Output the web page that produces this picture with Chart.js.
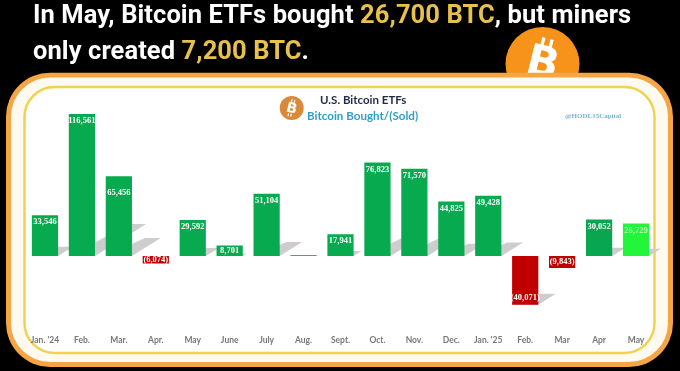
<!DOCTYPE html>
<html><head><meta charset="utf-8">
<style>
html,body{margin:0;padding:0;background:#000;width:680px;height:371px;overflow:hidden}
#wrap{position:relative;width:680px;height:371px}
canvas{position:absolute;left:0;top:0}
.t{position:absolute;white-space:nowrap}
.h{font:700 25.5px Roboto,sans-serif;color:#fff;left:33px;letter-spacing:.08px}
.h b{color:#e8c14c;font-weight:700}
</style></head><body><div id="wrap">
<canvas id="c" width="680" height="371"></canvas>
<div class="t h" style="top:-1px">In May, Bitcoin ETFs bought <b>26,700 BTC</b>, but miners</div>
<div class="t h" style="top:35px">only created <b>7,200 BTC</b>.</div>
<div class="t" style="left:320px;top:93px;font:700 11.5px Lato,sans-serif;color:#1f2a44">U.S. Bitcoin ETFs</div>
<div class="t" style="left:307px;top:109px;font:700 11.6px Lato,sans-serif;color:#2f9fc8">Bitcoin Bought/(Sold)</div>
<div class="t" style="left:565px;top:112px;font:700 7px 'Liberation Serif',serif;color:#7db2d2">@HODL15Capital</div>
</div>
<script src="https://cdn.jsdelivr.net/npm/chart.js@4"></script>
<script>
const categories=["Jan. '24","Feb.","Mar.","Apr.","May","June","July","Aug.","Sept.","Oct.","Nov.","Dec.","Jan. '25","Feb.","Mar","Apr","May"];
const btcBought=[33546,116561,65456,-6074,29592,8701,51104,800,17941,76823,71570,44825,49428,-40071,-9843,30052,26729];
const barColors=["#08aa50","#08aa50","#08aa50","#c00000","#08aa50","#08aa50","#08aa50","#4f9f88","#08aa50","#08aa50","#08aa50","#08aa50","#08aa50","#c00000","#c00000","#08a650","#22f53a"];
const labelColors=["#fff","#fff","#fff","#fff","#fff","#fff","#fff","#fff","#fff","#fff","#fff","#fff","#fff","#fff","#fff","#fff","#b6ffb0"];

function rr(x,y,w,h,r,c){c.beginPath();c.roundRect(x,y,w,h,r);}
function logo(c,x,y,r,bg,fs){
  c.save();c.fillStyle=bg;c.beginPath();c.arc(x,y,r,0,Math.PI*2);c.fill();
  c.translate(x,y);c.rotate(14*Math.PI/180);c.fillStyle='#fff';
  c.font='700 '+fs+'px "DejaVu Sans",sans-serif';c.textAlign='center';c.textBaseline='middle';
  c.fillText('B',0,1);
  c.fillRect(-fs*.16,-fs*.62,fs*.08,fs*.2);c.fillRect(fs*.04,-fs*.62,fs*.08,fs*.2);
  c.fillRect(-fs*.16,fs*.42,fs*.08,fs*.2);c.fillRect(fs*.04,fs*.42,fs*.08,fs*.2);
  c.restore();
}
const decor={id:'decor',beforeDraw(ch){
  const c=ch.ctx;c.save();
  c.fillStyle='#000';c.fillRect(0,0,680,371);
  logo(c,542.5,64,37,'#f7931a',42);
  rr(6,72.7,667,294.3,44,c);c.fillStyle='#f5a544';c.fill();
  rr(11,77.5,657,284.5,39,c);c.fillStyle='#fffaf0';c.fill();
  rr(24.5,87,630,266,30,c);c.fillStyle='#fff';c.fill();c.lineWidth=2.5;c.strokeStyle='#efd34f';c.stroke();
  logo(c,291.7,108,12,'#d9893a',14);
  c.restore();
}};
const shadows={id:'shadows',beforeDatasetsDraw(ch){
  const c=ch.ctx,m=ch.getDatasetMeta(0);c.save();c.fillStyle='#cdcdcd';
  m.data.forEach((b,i)=>{
    const v=btcBought[i];
    if(v<0&&v>-20000)return;
    const base=v>=0?b.base:b.y,h=Math.abs(b.base-b.y),w=b.width,L=b.x-w/2,R=b.x+w/2;
    const dx=h*.36,dy=h*.225;
    c.beginPath();c.moveTo(L,base);c.lineTo(R,base);c.lineTo(R+dx,base-dy);c.lineTo(R+dx-.6*w,base-dy);c.closePath();c.fill();
  });
  c.restore();
}};
const valueLabels={id:'valueLabels',afterDatasetsDraw(ch){
  const c=ch.ctx,m=ch.getDatasetMeta(0);c.save();
  c.font='700 8.5px "Liberation Serif",serif';c.textAlign='center';c.textBaseline='middle';
  m.data.forEach((b,i)=>{
    const v=btcBought[i];
    if(Math.abs(v)<2000)return;
    const txt=v<0?'('+Math.abs(v).toLocaleString('en-US')+')':v.toLocaleString('en-US');
    const h=Math.abs(b.base-b.y);
    let y;
    if(h<16)y=(b.y+b.base)/2;
    else if(v>=0)y=b.y+(i===2?17:7);
    else y=b.y-7;
    c.fillStyle=labelColors[i];c.fillText(txt,b.x,y);
  });
  c.restore();
}};
new Chart(document.getElementById('c'),{
  type:'bar',
  data:{labels:categories,datasets:[{data:btcBought,backgroundColor:barColors,barPercentage:.71,categoryPercentage:1}]},
  plugins:[decor,shadows,valueLabels],
  options:{responsive:false,animation:false,devicePixelRatio:1,
    layout:{padding:{left:26.5,right:25.5,top:97.7,bottom:9.5}},
    plugins:{legend:{display:false},title:{display:false},tooltip:{enabled:false}},
    scales:{
      y:{display:false,min:-62000,max:130000},
      x:{grid:{display:false,drawTicks:false,tickLength:0},border:{display:false},
         afterFit(s){s.height=30;},
         ticks:{autoSkip:false,maxRotation:0,minRotation:0,padding:4,color:'#777777',font:{family:'Lato',size:8.5,weight:'700'}}}
    }}
});
</script></body></html>
